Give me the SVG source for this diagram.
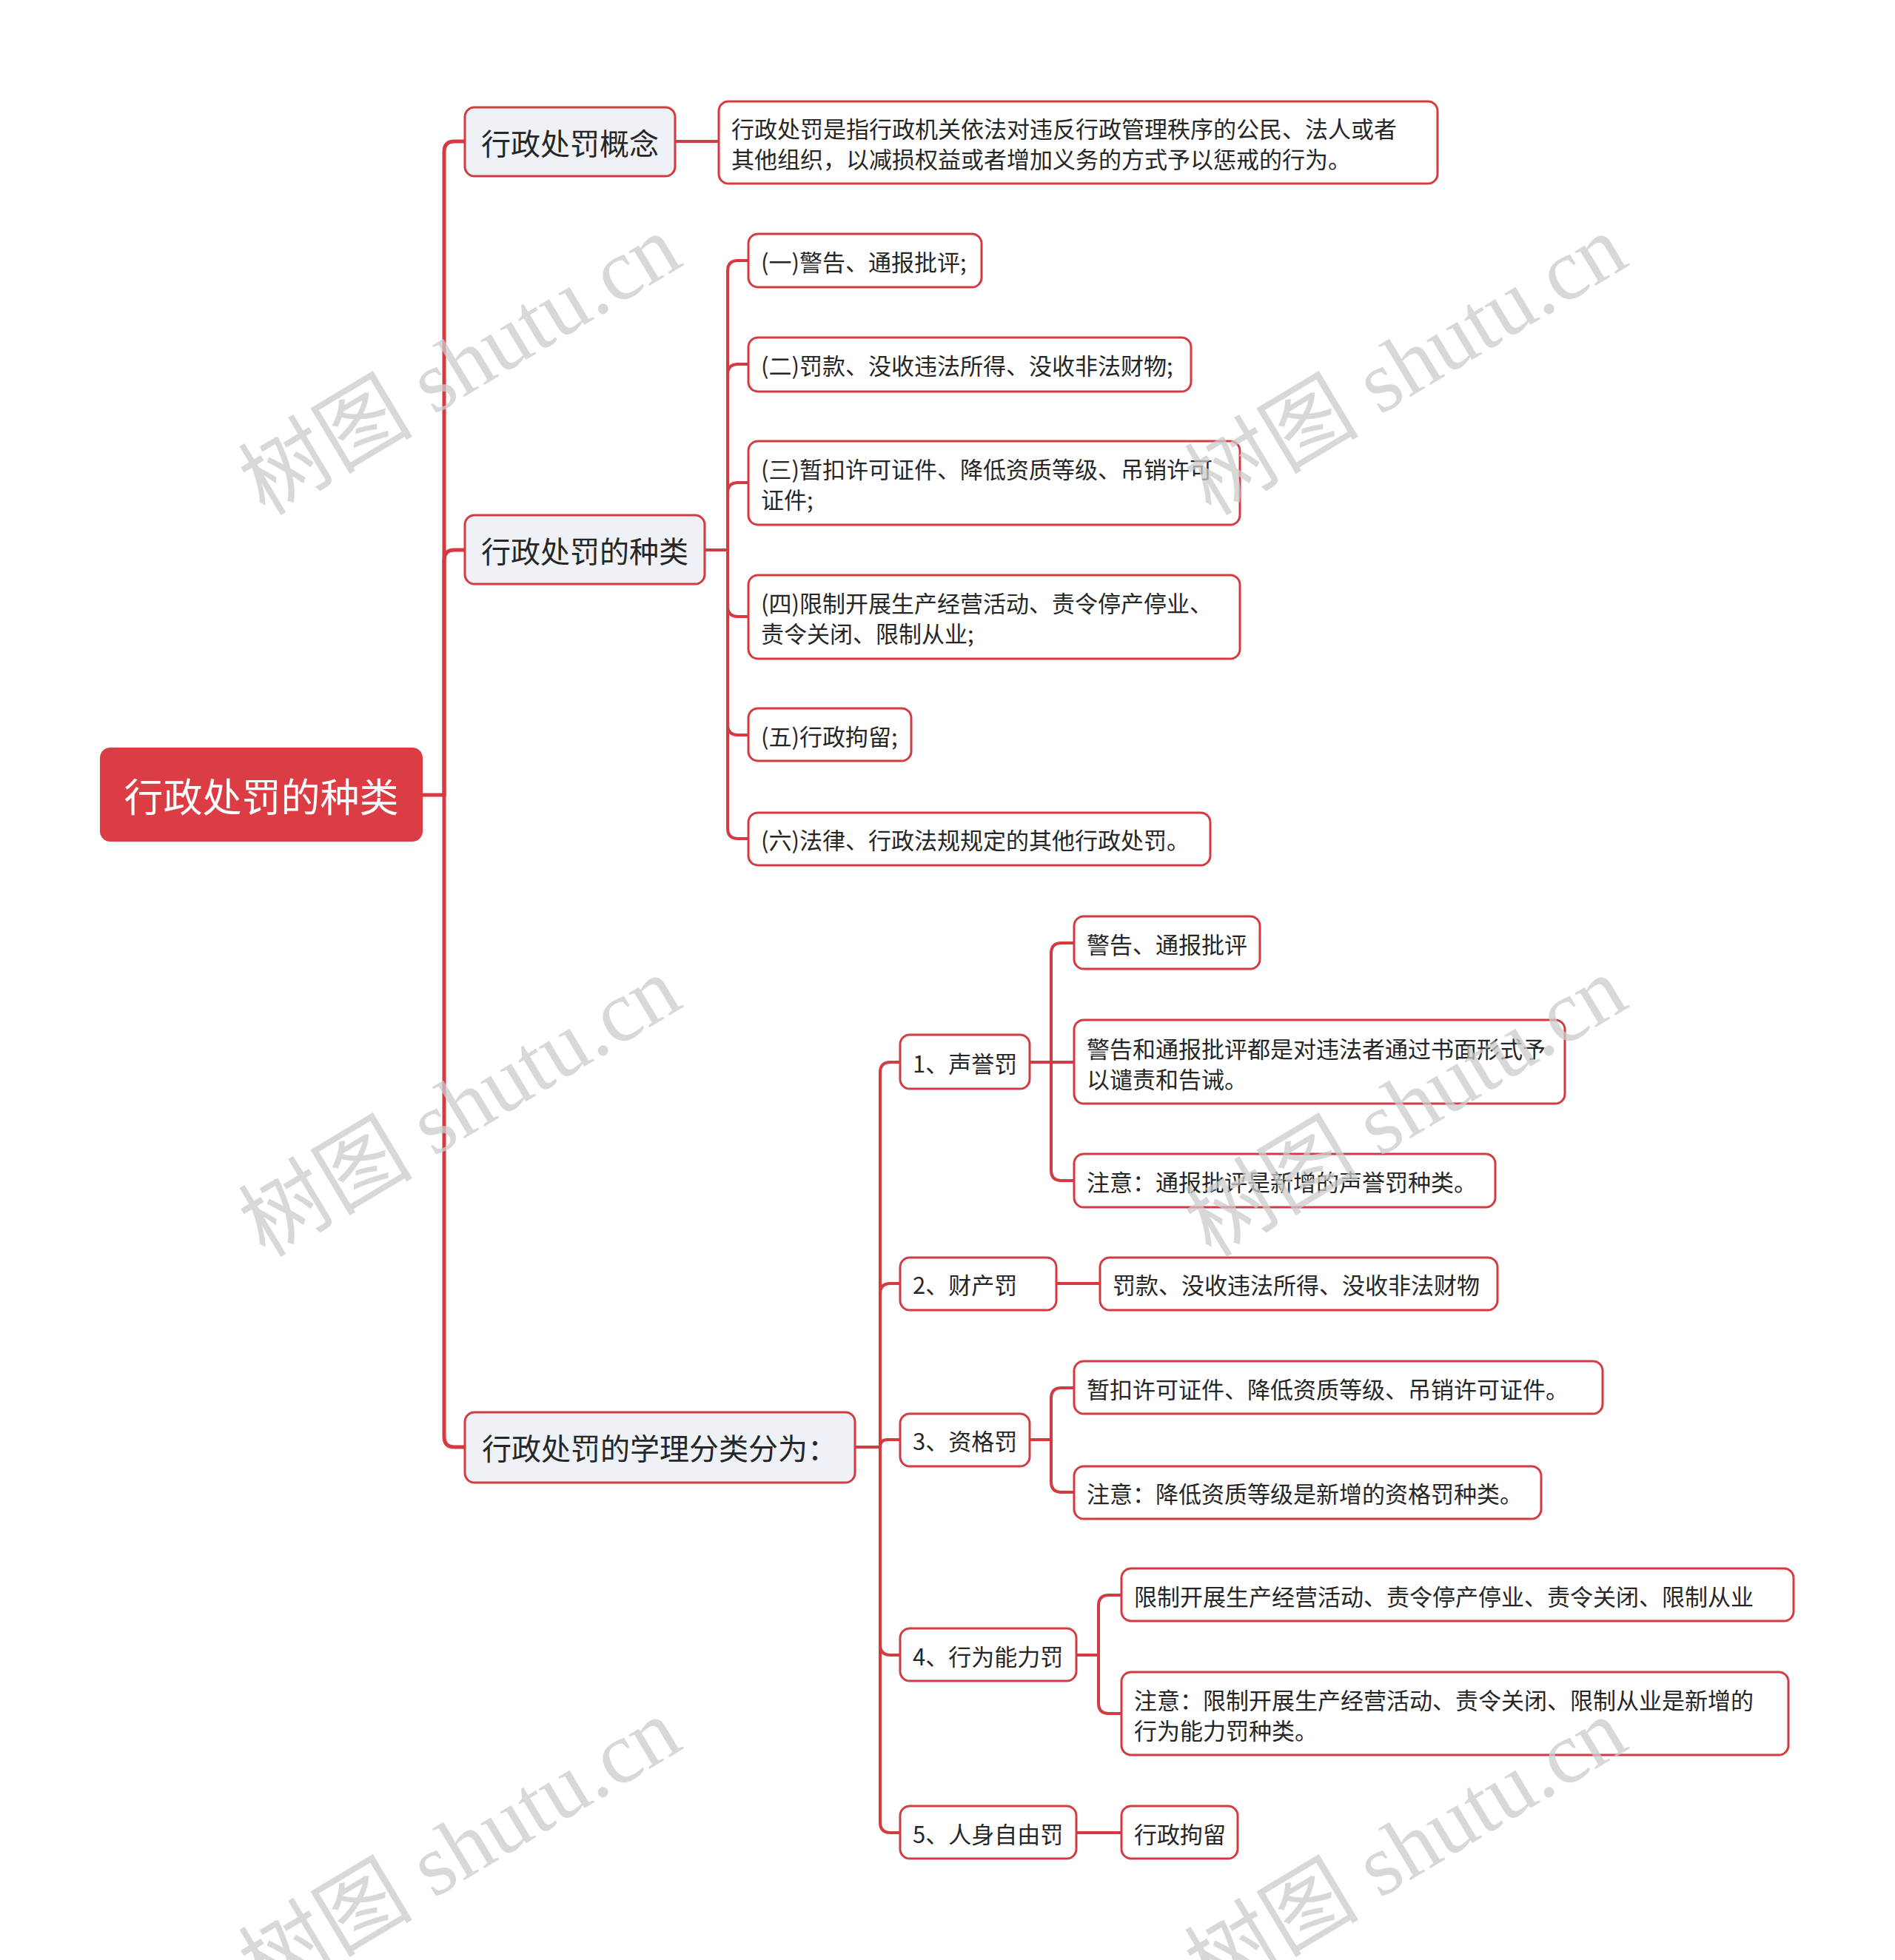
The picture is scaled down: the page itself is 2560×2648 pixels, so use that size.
<svg xmlns="http://www.w3.org/2000/svg" width="2560" height="2648" viewBox="0 0 2560 2648">
<style>
.bg{fill:#ffffff}
.ln{fill:none;stroke:#d33a41;stroke-width:4;stroke-linecap:round;stroke-linejoin:round}
.ln0{fill:none;stroke:#d33a41;stroke-width:5;stroke-linecap:round;stroke-linejoin:round}
.root{fill:#dc3d45}
.l1{fill:#eef1f5;stroke:#d33a41;stroke-width:3}
.l2{fill:#ffffff;stroke:#d33a41;stroke-width:3}
text{font-family:"Noto Sans CJK SC","Noto Sans",sans-serif;dominant-baseline:central}
.tr{fill:#ffffff;font-size:53px}
.t1{fill:#262626;font-size:40px}
.t2{fill:#262626;font-size:31px}
.wm{fill:#cccccc;opacity:0.75;font-family:"Liberation Serif","Noto Sans CJK SC",serif;font-size:118px;dominant-baseline:alphabetic}
</style>
<rect class="bg" x="0" y="0" width="2560" height="2648"/>
<g id="connectors">
<path class="ln0" d="M571,1074 H600"/>
<path class="ln0" d="M600,1074 V205 Q600,191 614,191 H628"/>
<path class="ln0" d="M600,1074 V757 Q600,743 614,743 H628"/>
<path class="ln0" d="M600,1074 V1941 Q600,1955 614,1955 H628"/>
<path class="ln" d="M912,191 H971"/>
<path class="ln" d="M952,743 H983"/>
<path class="ln" d="M983,743 V366 Q983,352 997,352 H1011"/>
<path class="ln" d="M983,743 V506 Q983,492 997,492 H1011"/>
<path class="ln" d="M983,743 V666 Q983,652 997,652 H1011"/>
<path class="ln" d="M983,743 V819 Q983,833 997,833 H1011"/>
<path class="ln" d="M983,743 V979 Q983,993 997,993 H1011"/>
<path class="ln" d="M983,743 V1119 Q983,1133 997,1133 H1011"/>
<path class="ln" d="M1155,1955 H1189"/>
<path class="ln" d="M1189,1955 V1449 Q1189,1435 1203,1435 H1216"/>
<path class="ln" d="M1189,1955 V1748 Q1189,1734 1203,1734 H1216"/>
<path class="ln" d="M1189,1955 Q1189,1945 1199,1945 H1216"/>
<path class="ln" d="M1189,1955 V2222 Q1189,2236 1203,2236 H1216"/>
<path class="ln" d="M1189,1955 V2462 Q1189,2476 1203,2476 H1216"/>
<path class="ln" d="M1391,1435 H1420"/>
<path class="ln" d="M1420,1435 V1288 Q1420,1274 1434,1274 H1451"/>
<path class="ln" d="M1420,1435 H1451"/>
<path class="ln" d="M1420,1435 V1581 Q1420,1595 1434,1595 H1451"/>
<path class="ln" d="M1427,1734 H1486"/>
<path class="ln" d="M1391,1945 H1420"/>
<path class="ln" d="M1420,1945 V1889 Q1420,1875 1434,1875 H1451"/>
<path class="ln" d="M1420,1945 V2002 Q1420,2016 1434,2016 H1451"/>
<path class="ln" d="M1454,2236 H1484"/>
<path class="ln" d="M1484,2236 V2169 Q1484,2155 1498,2155 H1515"/>
<path class="ln" d="M1484,2236 V2301 Q1484,2315 1498,2315 H1515"/>
<path class="ln" d="M1454,2476 H1515"/>
</g>
<g id="root"><rect class="root" x="135" y="1010" width="436" height="127" rx="14"/><text class="tr" x="353" y="1074" text-anchor="middle">行政处罚的种类</text></g>
<g id="n-gainian"><rect class="l1" x="628" y="145" width="284" height="93" rx="13"/><text class="t1" x="770" y="192" text-anchor="middle">行政处罚概念</text></g>
<g id="n-zhonglei"><rect class="l1" x="628" y="696" width="324" height="93" rx="13"/><text class="t1" x="790" y="743" text-anchor="middle">行政处罚的种类</text></g>
<g id="n-xueli"><rect class="l1" x="628" y="1908" width="527" height="95" rx="13"/><text class="t1" x="891" y="1955" text-anchor="middle">行政处罚的学理分类分为：</text></g>
<g id="n-def"><rect class="l2" x="971" y="137" width="971" height="111" rx="13"/><text class="t2" x="988" y="172">行政处罚是指行政机关依法对违反行政管理秩序的公民、法人或者</text><text class="t2" x="988" y="213">其他组织，以减损权益或者增加义务的方式予以惩戒的行为。</text></g>
<g id="n-k1"><rect class="l2" x="1011" y="316" width="315" height="72" rx="13"/><text class="t2" x="1028" y="352">(一)警告、通报批评;</text></g>
<g id="n-k2"><rect class="l2" x="1011" y="456" width="598" height="73" rx="13"/><text class="t2" x="1028" y="492">(二)罚款、没收违法所得、没收非法财物;</text></g>
<g id="n-k3"><rect class="l2" x="1011" y="596" width="664" height="113" rx="13"/><text class="t2" x="1028" y="632">(三)暂扣许可证件、降低资质等级、吊销许可</text><text class="t2" x="1028" y="673">证件;</text></g>
<g id="n-k4"><rect class="l2" x="1011" y="777" width="664" height="113" rx="13"/><text class="t2" x="1028" y="813">(四)限制开展生产经营活动、责令停产停业、</text><text class="t2" x="1028" y="854">责令关闭、限制从业;</text></g>
<g id="n-k5"><rect class="l2" x="1011" y="957" width="220" height="71" rx="13"/><text class="t2" x="1028" y="993">(五)行政拘留;</text></g>
<g id="n-k6"><rect class="l2" x="1011" y="1098" width="624" height="71" rx="13"/><text class="t2" x="1028" y="1133">(六)法律、行政法规规定的其他行政处罚。</text></g>
<g id="n-c1"><rect class="l2" x="1216" y="1398" width="175" height="73" rx="13"/><text class="t2" x="1233" y="1435">1、声誉罚</text></g>
<g id="n-c2"><rect class="l2" x="1216" y="1699" width="211" height="71" rx="13"/><text class="t2" x="1233" y="1734">2、财产罚</text></g>
<g id="n-c3"><rect class="l2" x="1216" y="1910" width="175" height="71" rx="13"/><text class="t2" x="1233" y="1945">3、资格罚</text></g>
<g id="n-c4"><rect class="l2" x="1216" y="2200" width="238" height="71" rx="13"/><text class="t2" x="1233" y="2236">4、行为能力罚</text></g>
<g id="n-c5"><rect class="l2" x="1216" y="2440" width="238" height="71" rx="13"/><text class="t2" x="1233" y="2476">5、人身自由罚</text></g>
<g id="n-c1a"><rect class="l2" x="1451" y="1238" width="251" height="71" rx="13"/><text class="t2" x="1468" y="1274">警告、通报批评</text></g>
<g id="n-c1b"><rect class="l2" x="1451" y="1378" width="663" height="113" rx="13"/><text class="t2" x="1468" y="1415">警告和通报批评都是对违法者通过书面形式予</text><text class="t2" x="1468" y="1456">以谴责和告诫。</text></g>
<g id="n-c1c"><rect class="l2" x="1451" y="1559" width="569" height="72" rx="13"/><text class="t2" x="1468" y="1595">注意：通报批评是新增的声誉罚种类。</text></g>
<g id="n-c2a"><rect class="l2" x="1486" y="1699" width="537" height="71" rx="13"/><text class="t2" x="1503" y="1734">罚款、没收违法所得、没收非法财物</text></g>
<g id="n-c3a"><rect class="l2" x="1451" y="1839" width="714" height="71" rx="13"/><text class="t2" x="1468" y="1875">暂扣许可证件、降低资质等级、吊销许可证件。</text></g>
<g id="n-c3b"><rect class="l2" x="1451" y="1981" width="631" height="71" rx="13"/><text class="t2" x="1468" y="2016">注意：降低资质等级是新增的资格罚种类。</text></g>
<g id="n-c4a"><rect class="l2" x="1515" y="2119" width="908" height="71" rx="13"/><text class="t2" x="1532" y="2155">限制开展生产经营活动、责令停产停业、责令关闭、限制从业</text></g>
<g id="n-c4b"><rect class="l2" x="1515" y="2259" width="901" height="112" rx="13"/><text class="t2" x="1532" y="2295">注意：限制开展生产经营活动、责令关闭、限制从业是新增的</text><text class="t2" x="1532" y="2336">行为能力罚种类。</text></g>
<g id="n-c5a"><rect class="l2" x="1515" y="2440" width="157" height="71" rx="13"/><text class="t2" x="1532" y="2476">行政拘留</text></g>
<g id="watermarks">
<text class="wm" transform="translate(358,698) rotate(-31)">树图 shutu.cn</text>
<text class="wm" transform="translate(1636,698) rotate(-31)">树图 shutu.cn</text>
<text class="wm" transform="translate(358,1700) rotate(-31)">树图 shutu.cn</text>
<text class="wm" transform="translate(1636,1700) rotate(-31)">树图 shutu.cn</text>
<text class="wm" transform="translate(358,2702) rotate(-31)">树图 shutu.cn</text>
<text class="wm" transform="translate(1636,2702) rotate(-31)">树图 shutu.cn</text>
</g>
</svg>
